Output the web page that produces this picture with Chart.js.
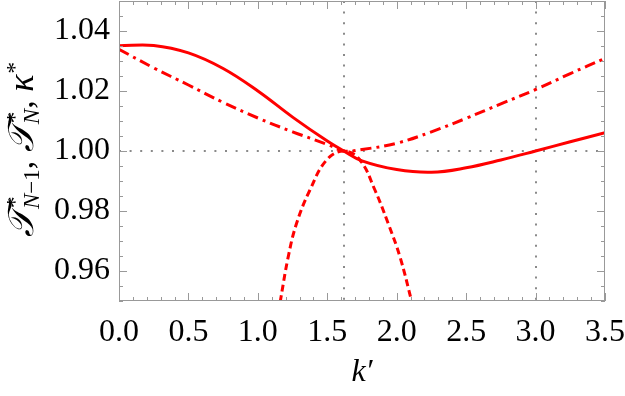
<!DOCTYPE html>
<html>
<head>
<meta charset="utf-8">
<script src="https://cdn.jsdelivr.net/npm/chart.js@4"></script>
<style>
  html, body { margin: 0; padding: 0; background: #fff; }
  #wrap { width: 625px; height: 396px; }
</style>
</head>
<body>
<div id="wrap"><canvas id="kChart" width="625" height="396"></canvas></div>
<script>
// values
const kGrid = [0, 0.25, 0.5, 0.75, 1.0, 1.25, 1.5, 1.618, 1.75, 2.0, 2.25, 2.5, 2.75, 3.0, 3.25, 3.5];
const solidValues = [1.0351, 1.0352, 1.0327, 1.0275, 1.0200, 1.0113, 1.0033, 1.0000, 0.9967, 0.9938, 0.9929, 0.9944, 0.9970, 1.0000, 1.0031, 1.0061];
const dashDotValues = [1.0339, 1.0277, 1.0220, 1.0162, 1.0110, 1.0064, 1.0022, 1.0000, 1.0005, 1.0026, 1.0064, 1.0109, 1.0157, 1.0205, 1.0258, 1.0309];
const kDotted = [1.16, 1.219, 1.279, 1.375, 1.495, 1.618, 1.735, 1.843, 1.938, 2.023, 2.11];
const dottedValues = [0.9495, 0.9648, 0.9759, 0.9870, 0.9970, 1.0000, 0.9970, 0.9870, 0.9759, 0.9648, 0.9495];

const xTicks = [0, 0.5, 1.0, 1.5, 2.0, 2.5, 3.0, 3.5];
const yTicks = [0.96, 0.98, 1.00, 1.02, 1.04];
const xRefLines = [1.618, 3.0];
const yRefLines = [1.0];

const RED = '#ff0000';
const FRAME = '#999999';
const SERIF = '"Liberation Serif", "DejaVu Serif", serif';

function toPoints(xs, ys) {
  return xs.map((x, i) => ({ x: x, y: ys[i] }));
}

// dotted reference lines at k' = golden ratio, 3 and at 1.00
const refLinesPlugin = {
  id: 'refLines',
  beforeDatasetsDraw(chart) {
    const { ctx, chartArea: a, scales } = chart;
    ctx.save();
    ctx.strokeStyle = '#8a8a8a';
    ctx.lineWidth = 2;
    ctx.setLineDash([2, 8.6]);
    xRefLines.forEach(v => {
      const px = Math.round(scales.x.getPixelForValue(v));
      ctx.beginPath();
      ctx.moveTo(px, a.top);
      ctx.lineTo(px, a.bottom);
      ctx.stroke();
    });
    yRefLines.forEach(v => {
      const py = Math.round(scales.y.getPixelForValue(v));
      ctx.beginPath();
      ctx.moveTo(a.left, py);
      ctx.lineTo(a.right, py);
      ctx.stroke();
    });
    ctx.restore();
  }
};

// frame with inward major/minor ticks on all four sides
const framePlugin = {
  id: 'frame',
  afterDatasetsDraw(chart) {
    const { ctx, chartArea: a, scales } = chart;
    ctx.save();
    ctx.strokeStyle = FRAME;
    ctx.lineWidth = 1;
    ctx.strokeRect(a.left + 0.5, a.top + 0.5, a.right - a.left - 1, a.bottom - a.top - 1);
    ctx.beginPath();
    for (let i = 0; i <= 35; i++) {
      const v = i / 10;
      const len = i % 5 === 0 ? 8 : 4;
      const px = Math.round(scales.x.getPixelForValue(v)) + 0.5;
      ctx.moveTo(px, a.bottom); ctx.lineTo(px, a.bottom - len);
      ctx.moveTo(px, a.top); ctx.lineTo(px, a.top + len);
    }
    for (let i = 0; i <= 20; i++) {
      const v = 0.95 + i * 0.005;
      const len = i % 4 === 2 ? 8 : 4;
      const py = Math.round(scales.y.getPixelForValue(v)) + 0.5;
      ctx.moveTo(a.left, py); ctx.lineTo(a.left + len, py);
      ctx.moveTo(a.right, py); ctx.lineTo(a.right - len, py);
    }
    ctx.stroke();
    ctx.restore();
  }
};

// rotated y title with sub- and superscripts
const yTitlePlugin = {
  id: 'yTitle',
  afterDraw(chart) {
    const ctx = chart.ctx;
    const big = 'italic 36px ' + SERIF;
    const bigRoman = '34px ' + SERIF;
    const small = '23px ' + SERIF;
    const smallIt = 'italic 23px ' + SERIF;
    const parts = [
      { main: '\u{1D4AF}', font: big, sup: '*', sub: [['N', smallIt], ['\u22121', small]] },
      { main: ', ', font: bigRoman },
      { main: '\u{1D4AF}', font: big, sup: '*', sub: [['N', smallIt]] },
      { main: ', ', font: bigRoman },
      { main: '\u03BA', font: big, sup: '*' }
    ];
    const widthOf = (t, f) => { ctx.font = f; return ctx.measureText(t).width; };
    let total = 0;
    parts.forEach(p => {
      p.w = widthOf(p.main, p.font);
      let sw = p.sup ? widthOf(p.sup, small) : 0;
      let bw = 0;
      (p.sub || []).forEach(s => { bw += widthOf(s[0], s[1]); });
      p.extra = Math.max(sw, bw);
      total += p.w + p.extra;
    });
    ctx.save();
    ctx.translate(33, 150);
    ctx.rotate(-Math.PI / 2);
    ctx.fillStyle = '#000';
    ctx.textBaseline = 'alphabetic';
    let x = -total / 2;
    parts.forEach(p => {
      ctx.font = p.font;
      ctx.fillText(p.main, x, 0);
      x += p.w;
      if (p.sup) {
        ctx.font = small;
        ctx.fillText(p.sup, x + 1, -11);
      }
      let sx = x;
      (p.sub || []).forEach(s => {
        ctx.font = s[1];
        ctx.fillText(s[0], sx, 6);
        sx += ctx.measureText(s[0]).width;
      });
      x += p.extra;
    });
    ctx.restore();
  }
};

new Chart(document.getElementById('kChart').getContext('2d'), {
  type: 'line',
  data: {
    datasets: [
      {
        data: toPoints(kGrid, solidValues),
        borderColor: RED,
        borderWidth: 3,
        tension: 0.4,
        pointRadius: 0
      },
      {
        data: toPoints(kGrid, dashDotValues),
        borderColor: RED,
        borderWidth: 3,
        borderDash: [11, 5, 3, 5],
        tension: 0.4,
        pointRadius: 0
      },
      {
        data: toPoints(kDotted, dottedValues),
        borderColor: RED,
        borderWidth: 3,
        borderDash: [7, 4],
        tension: 0.4,
        pointRadius: 0
      }
    ]
  },
  options: {
    responsive: false,
    animation: false,
    layout: { padding: { left: 0, right: 20, top: 1, bottom: 0 } },
    plugins: { legend: { display: false }, tooltip: { enabled: false } },
    scales: {
      x: {
        type: 'linear',
        min: 0,
        max: 3.5,
        grid: { display: false, drawTicks: false },
        border: { display: false },
        afterBuildTicks: s => { s.ticks = xTicks.map(v => ({ value: v })); },
        afterFit: s => { s.height = 95; s.paddingLeft = 0; s.paddingRight = 0; },
        ticks: {
          color: '#000',
          padding: 12,
          maxRotation: 0,
          autoSkip: false,
          font: { family: SERIF, size: 32 },
          callback: v => v.toFixed(1)
        },
        title: {
          display: true,
          text: 'k\u2032',
          color: '#000',
          font: { family: SERIF, size: 32, style: 'italic' },
          padding: { top: 0, bottom: 4 }
        }
      },
      y: {
        min: 0.95,
        max: 1.05,
        grid: { display: false, drawTicks: false },
        border: { display: false },
        afterBuildTicks: s => { s.ticks = yTicks.map(v => ({ value: v })); },
        afterFit: s => { s.width = 119; s.paddingTop = 0; s.paddingBottom = 0; },
        ticks: {
          color: '#000',
          padding: 9,
          autoSkip: false,
          font: { family: SERIF, size: 32 },
          callback: v => v.toFixed(2)
        }
      }
    }
  },
  plugins: [refLinesPlugin, framePlugin, yTitlePlugin]
});
</script>
</body>
</html>
